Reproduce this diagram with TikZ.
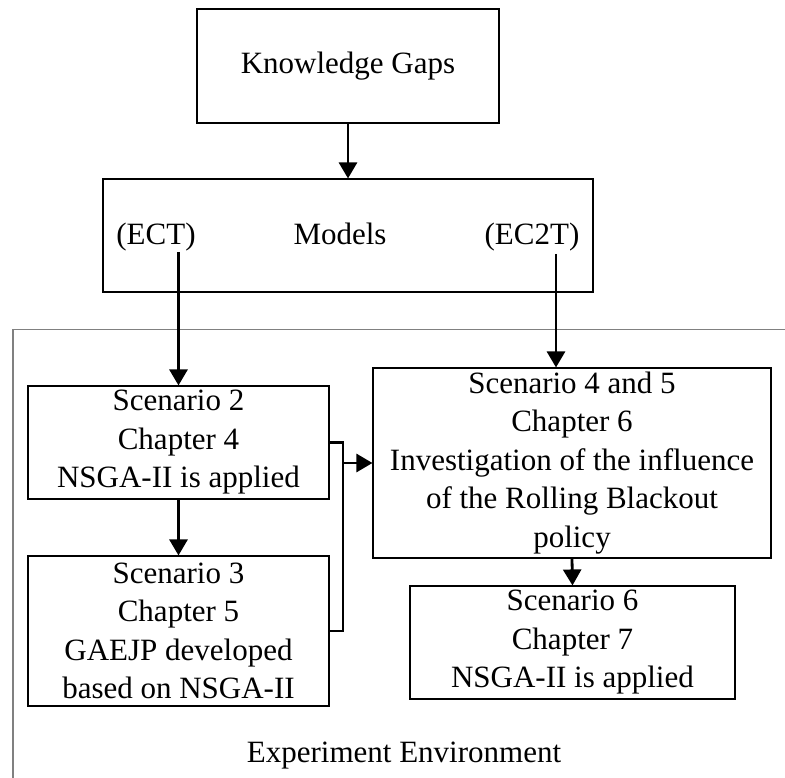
\documentclass[tikz,border=0pt]{standalone}
\usepackage{fontspec}
\setmainfont{Liberation Serif}
\usetikzlibrary{arrows.meta}

\begin{document}
\begin{tikzpicture}[x=1pt,y=-1pt,
    box/.style={draw, line width=1.1pt, align=center, inner sep=0pt, font=\fontsize{31}{38.5}\selectfont},
    txt/.style={inner sep=0pt, anchor=base, font=\fontsize{31}{38.5}\selectfont},
    arrow/.style={line width=2.8pt, -{Triangle[length=16pt,width=18pt]}},
    link/.style={line width=2.8pt}]
\useasboundingbox (0,0) rectangle (785,778);
% experiment environment frame
\draw[gray, line width=1.3pt] (785,329.5) -- (13,329.5) -- (13,778);
\node[txt] (env) at (404,762) {Experiment Environment};
% top boxes
\node[box, minimum width=302pt, minimum height=114pt] (gaps) at (348,66) {Knowledge Gaps};
\node[box, minimum width=490pt, minimum height=113pt] (models) at (348,235.5) {};
\node[txt] (mtext) at (340,245) {Models};
\node[txt] (ect) at (156,245) {(ECT)};
\node[txt] (ec2t) at (532,245) {(EC2T)};
\coordinate (ec2tout) at (556,254);
% scenario boxes
\node[box, minimum width=301pt, minimum height=113pt] (s2) at (178.5,442.5) {Scenario 2\\Chapter 4\\NSGA-II is applied};
\node[box, minimum width=301pt, minimum height=150pt] (s3) at (178.5,631) {Scenario 3\\Chapter 5\\GAEJP developed\\based on NSGA-II};
\node[box, minimum width=398pt, minimum height=190pt] (s45) at (572,463) {Scenario 4 and 5\\Chapter 6\\Investigation of the influence\\of the Rolling Blackout\\policy};
\node[box, minimum width=325pt, minimum height=113pt] (s6) at (572.5,642.5) {Scenario 6\\Chapter 7\\NSGA-II is applied};
\coordinate (joint) at (343,463);
% connectors
\draw[arrow] (gaps.south) -- (models.north);
\draw[arrow] (ect.south -| s2.north) -- (s2.north);
\draw[arrow] (ec2tout) -- (ec2tout |- s45.north);
\draw[arrow] (s2.south) -- (s3.north);
\draw[link] (s2.east) -- (s2.east -| joint) -- (s3.east -| joint) -- (s3.east);
\draw[arrow] (joint) -- (s45.west);
\draw[arrow] (s45.south) -- (s6.north);
\end{tikzpicture}
\end{document}
